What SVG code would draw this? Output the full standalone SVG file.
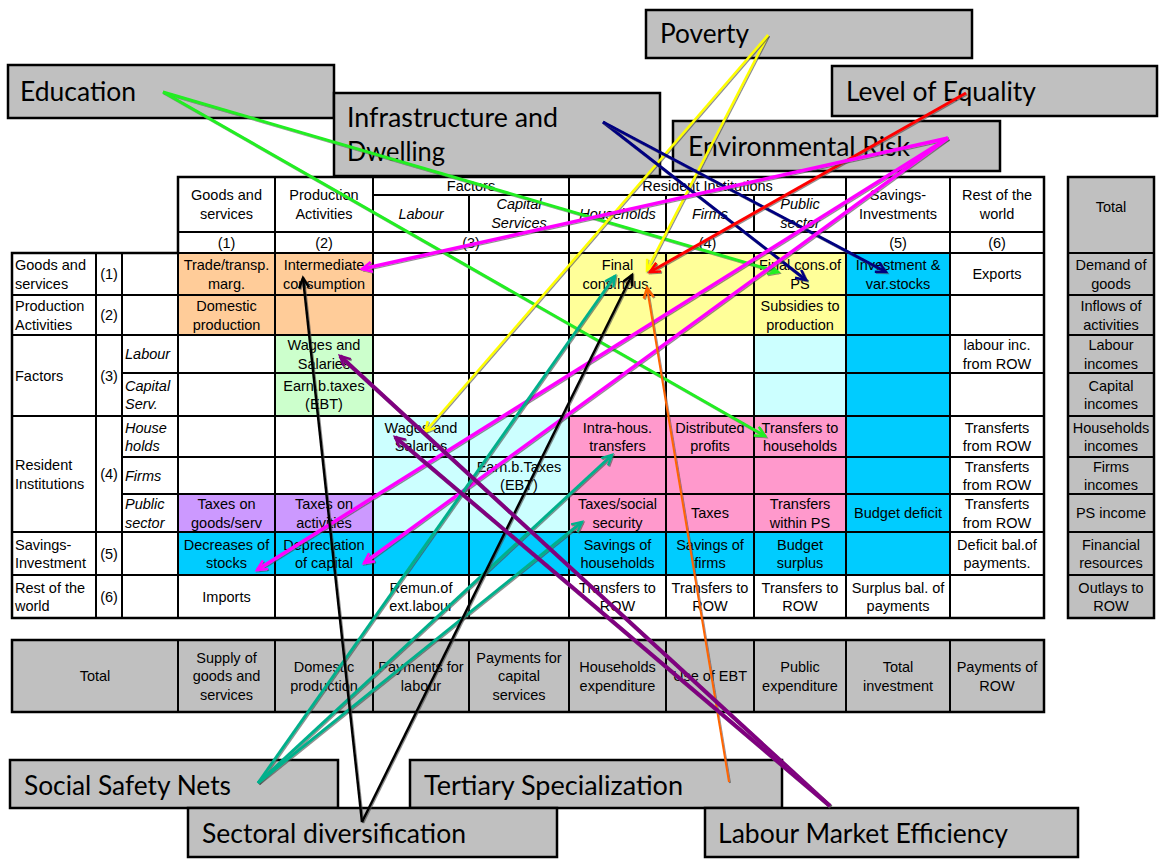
<svg xmlns="http://www.w3.org/2000/svg" width="1159" height="865" viewBox="0 0 1159 865">
<defs>
<style>
.c{font-family:"Liberation Sans",Arial,sans-serif;font-size:14.5px;text-anchor:middle;fill:#000}
.l{text-anchor:start}
.i{font-style:italic}
.box{fill:#C0C0C0;stroke:#000;stroke-width:2.5}
.lbl{font-family:Lato,"Open Sans",sans-serif;font-size:26px;fill:#000}
.grid{stroke:#000;stroke-width:2;fill:none}
.outer{stroke:#000;stroke-width:2.5;fill:none}
.cn{fill:none;filter:url(#sh)}
</style>
<filter id="sh" filterUnits="userSpaceOnUse" x="0" y="0" width="1159" height="865">
<feDropShadow dx="1" dy="1" stdDeviation="0.6" flood-color="#444" flood-opacity="0.6"/>
</filter>
<marker id="a-green" markerUnits="userSpaceOnUse" markerWidth="14" markerHeight="14" refX="11" refY="6" orient="auto"><path d="M1,1 L11,6 L1,11" fill="none" stroke="#22EE22" stroke-width="2.5"/></marker>
<marker id="a-yellow" markerUnits="userSpaceOnUse" markerWidth="14" markerHeight="14" refX="11" refY="6" orient="auto"><path d="M1,1 L11,6 L1,11" fill="none" stroke="#FFFF00" stroke-width="2.5"/></marker>
<marker id="a-navy" markerUnits="userSpaceOnUse" markerWidth="14" markerHeight="14" refX="11" refY="6" orient="auto"><path d="M1,1 L11,6 L1,11" fill="none" stroke="#000080" stroke-width="2.5"/></marker>
<marker id="a-red" markerUnits="userSpaceOnUse" markerWidth="14" markerHeight="14" refX="11" refY="6" orient="auto"><path d="M1,1 L11,6 L1,11" fill="none" stroke="#FF0000" stroke-width="2.5"/></marker>
<marker id="a-mag" markerUnits="userSpaceOnUse" markerWidth="14" markerHeight="14" refX="11" refY="6" orient="auto"><path d="M1,1 L11,6 L1,11" fill="none" stroke="#FF00FF" stroke-width="2.5"/></marker>
<marker id="a-teal" markerUnits="userSpaceOnUse" markerWidth="14" markerHeight="14" refX="11" refY="6" orient="auto"><path d="M1,1 L11,6 L1,11" fill="none" stroke="#00B08C" stroke-width="2.5"/></marker>
<marker id="a-black" markerUnits="userSpaceOnUse" markerWidth="14" markerHeight="14" refX="11" refY="6" orient="auto"><path d="M1,1 L11,6 L1,11" fill="none" stroke="#000000" stroke-width="2.5"/></marker>
<marker id="a-orange" markerUnits="userSpaceOnUse" markerWidth="14" markerHeight="14" refX="11" refY="6" orient="auto"><path d="M1,1 L11,6 L1,11" fill="none" stroke="#FF6600" stroke-width="2.5"/></marker>
<marker id="a-purple" markerUnits="userSpaceOnUse" markerWidth="14" markerHeight="14" refX="11" refY="6" orient="auto"><path d="M1,1 L11,6 L1,11" fill="none" stroke="#800080" stroke-width="2.5"/></marker>
</defs>
<rect width="1159" height="865" fill="#fff"/>

<!-- label boxes -->
<g id="education"><rect class="box" x="8" y="65" width="326" height="53"/><text class="lbl" x="20" y="101" textLength="116" lengthAdjust="spacingAndGlyphs">Education</text></g>
<g id="infrastructure"><rect class="box" x="334" y="93" width="326" height="83"/><text class="lbl" x="347" y="127" textLength="211" lengthAdjust="spacingAndGlyphs">Infrastructure and</text><text class="lbl" x="347" y="161" textLength="98" lengthAdjust="spacingAndGlyphs">Dwelling</text></g>
<g id="poverty"><rect class="box" x="646" y="10" width="326" height="48"/><text class="lbl" x="660" y="43" textLength="89" lengthAdjust="spacingAndGlyphs">Poverty</text></g>
<g id="equality"><rect class="box" x="832" y="66" width="325" height="50"/><text class="lbl" x="846" y="101" textLength="190" lengthAdjust="spacingAndGlyphs">Level of Equality</text></g>
<g id="envrisk"><rect class="box" x="673" y="121" width="327" height="50"/><text class="lbl" x="688" y="156" textLength="222" lengthAdjust="spacingAndGlyphs">Environmental Risk</text></g>
<g id="safetynets"><rect class="box" x="10" y="760" width="328" height="48"/><text class="lbl" x="24" y="795" textLength="207" lengthAdjust="spacingAndGlyphs">Social Safety Nets</text></g>
<g id="tertiary"><rect class="box" x="410" y="760" width="372" height="48"/><text class="lbl" x="424" y="795" textLength="259" lengthAdjust="spacingAndGlyphs">Tertiary Specialization</text></g>
<g id="sectoral"><rect class="box" x="188" y="808" width="369" height="49"/><text class="lbl" x="202" y="843" textLength="264" lengthAdjust="spacingAndGlyphs">Sectoral diversification</text></g>
<g id="labourmarket"><rect class="box" x="705" y="808" width="373" height="49"/><text class="lbl" x="718" y="843" textLength="290" lengthAdjust="spacingAndGlyphs">Labour Market Efficiency</text></g>

<!-- SAM table -->
<g id="sam-table">
<rect x="178" y="253" width="195" height="82" fill="#FFCC99"/>
<rect x="275" y="335" width="98" height="81" fill="#CCFFCC"/>
<rect x="569" y="253" width="277" height="82" fill="#FFFF99"/>
<rect x="846" y="253" width="104" height="322" fill="#00CCFF"/>
<rect x="178" y="532" width="668" height="43" fill="#00CCFF"/>
<rect x="373" y="416" width="196" height="116" fill="#CCFFFF"/>
<rect x="754" y="335" width="92" height="81" fill="#CCFFFF"/>
<rect x="569" y="416" width="277" height="116" fill="#FF99CC"/>
<rect x="178" y="494" width="195" height="38" fill="#CC99FF"/>
<path class="grid" d="M178,177H1044M178,232H1044M373,195H846M12,253H1044M12,295H1044M12,335H1044M122,373H1044M12,416H1044M122,457H1044M122,494H1044M12,532H1044M12,575H1044M12,618H1044
M96,253V618M122,253V618M178,177V618M275,177V618M373,177V618M469,195V232M469,253V618M569,177V618M666,195V232M666,253V618M754,195V232M754,253V618M846,177V618M950,177V618M1044,177V618M12,253V618"/>
<path class="outer" d="M178,177H1044V618H12V253H178Z"/>
<!-- header -->
<text class="c" x="226.5" y="200">Goods and</text><text class="c" x="226.5" y="218.5">services</text>
<text class="c" x="324" y="200">Production</text><text class="c" x="324" y="218.5">Activities</text>
<text class="c" x="471" y="191">Factors</text>
<text class="c" x="707.5" y="191">Resident Institutions</text>
<text class="c i" x="421" y="218.5">Labour</text>
<text class="c i" x="519" y="209">Capital</text><text class="c i" x="519" y="227.5">Services</text>
<text class="c i" x="617.5" y="218.5">Households</text>
<text class="c i" x="710" y="218.5">Firms</text>
<text class="c i" x="800" y="209">Public</text><text class="c i" x="800" y="227.5">sector</text>
<text class="c" x="898" y="200">Savings-</text><text class="c" x="898" y="218.5">Investments</text>
<text class="c" x="997" y="200">Rest of the</text><text class="c" x="997" y="218.5">world</text>
<text class="c" x="226.5" y="247.5">(1)</text><text class="c" x="324" y="247.5">(2)</text><text class="c" x="471" y="247.5">(3)</text><text class="c" x="707.5" y="247.5">(4)</text><text class="c" x="898" y="247.5">(5)</text><text class="c" x="997" y="247.5">(6)</text>
<!-- row labels -->
<text class="c l" x="15" y="270">Goods and</text><text class="c l" x="15" y="288.5">services</text><text class="c" x="109" y="279">(1)</text>
<text class="c l" x="15" y="311">Production</text><text class="c l" x="15" y="329.5">Activities</text><text class="c" x="109" y="320">(2)</text>
<text class="c l" x="15" y="380.5">Factors</text><text class="c" x="109" y="380.5">(3)</text>
<text class="c l i" x="125" y="359">Labour</text>
<text class="c l i" x="125" y="390.5">Capital</text><text class="c l i" x="125" y="409">Serv.</text>
<text class="c l" x="15" y="470">Resident</text><text class="c l" x="15" y="488.5">Institutions</text><text class="c" x="109" y="479">(4)</text>
<text class="c l i" x="125" y="432.5">House</text><text class="c l i" x="125" y="451">holds</text>
<text class="c l i" x="125" y="480.5">Firms</text>
<text class="c l i" x="125" y="509">Public</text><text class="c l i" x="125" y="527.5">sector</text>
<text class="c l" x="15" y="549.5">Savings-</text><text class="c l" x="15" y="568">Investment</text><text class="c" x="109" y="558.5">(5)</text>
<text class="c l" x="15" y="592.5">Rest of the</text><text class="c l" x="15" y="611">world</text><text class="c" x="109" y="601.5">(6)</text>
<!-- cells -->
<text class="c" x="226.5" y="270">Trade/transp.</text><text class="c" x="226.5" y="288.5">marg.</text>
<text class="c" x="324" y="270">Intermediate</text><text class="c" x="324" y="288.5">consumption</text>
<text class="c" x="617.5" y="270">Final</text><text class="c" x="617.5" y="288.5">cons.hous.</text>
<text class="c" x="800" y="270">Final cons.of</text><text class="c" x="800" y="288.5">PS</text>
<text class="c" x="898" y="270">Investment &amp;</text><text class="c" x="898" y="288.5">var.stocks</text>
<text class="c" x="997" y="279">Exports</text>
<text class="c" x="226.5" y="311">Domestic</text><text class="c" x="226.5" y="329.5">production</text>
<text class="c" x="800" y="311">Subsidies to</text><text class="c" x="800" y="329.5">production</text>
<text class="c" x="324" y="350">Wages and</text><text class="c" x="324" y="368.5">Salaries</text>
<text class="c" x="997" y="350">labour inc.</text><text class="c" x="997" y="368.5">from ROW</text>
<text class="c" x="324" y="390.5">Earn.b.taxes</text><text class="c" x="324" y="409">(EBT)</text>
<text class="c" x="421" y="432.5">Wages and</text><text class="c" x="421" y="451">Salaries</text>
<text class="c" x="617.5" y="432.5">Intra-hous.</text><text class="c" x="617.5" y="451">transfers</text>
<text class="c" x="710" y="432.5">Distributed</text><text class="c" x="710" y="451">profits</text>
<text class="c" x="800" y="432.5">Transfers to</text><text class="c" x="800" y="451">households</text>
<text class="c" x="997" y="432.5">Transferts</text><text class="c" x="997" y="451">from ROW</text>
<text class="c" x="519" y="471.5">Earn.b.Taxes</text><text class="c" x="519" y="490">(EBT)</text>
<text class="c" x="997" y="471.5">Transferts</text><text class="c" x="997" y="490">from ROW</text>
<text class="c" x="226.5" y="509">Taxes on</text><text class="c" x="226.5" y="527.5">goods/serv</text>
<text class="c" x="324" y="509">Taxes on</text><text class="c" x="324" y="527.5">activities</text>
<text class="c" x="617.5" y="509">Taxes/social</text><text class="c" x="617.5" y="527.5">security</text>
<text class="c" x="710" y="518">Taxes</text>
<text class="c" x="800" y="509">Transfers</text><text class="c" x="800" y="527.5">within PS</text>
<text class="c" x="898" y="518">Budget deficit</text>
<text class="c" x="997" y="509">Transferts</text><text class="c" x="997" y="527.5">from ROW</text>
<text class="c" x="226.5" y="549.5">Decreases of</text><text class="c" x="226.5" y="568">stocks</text>
<text class="c" x="324" y="549.5">Depreciation</text><text class="c" x="324" y="568">of capital</text>
<text class="c" x="617.5" y="549.5">Savings of</text><text class="c" x="617.5" y="568">households</text>
<text class="c" x="710" y="549.5">Savings of</text><text class="c" x="710" y="568">firms</text>
<text class="c" x="800" y="549.5">Budget</text><text class="c" x="800" y="568">surplus</text>
<text class="c" x="997" y="549.5">Deficit bal.of</text><text class="c" x="997" y="568">payments.</text>
<text class="c" x="226.5" y="601.5">Imports</text>
<text class="c" x="421" y="592.5">Remun.of</text><text class="c" x="421" y="611">ext.labour</text>
<text class="c" x="617.5" y="592.5">Transfers to</text><text class="c" x="617.5" y="611">ROW</text>
<text class="c" x="710" y="592.5">Transfers to</text><text class="c" x="710" y="611">ROW</text>
<text class="c" x="800" y="592.5">Transfers to</text><text class="c" x="800" y="611">ROW</text>
<text class="c" x="898" y="592.5">Surplus bal. of</text><text class="c" x="898" y="611">payments</text>
</g>

<!-- total column -->
<g id="total-column">
<rect x="1068" y="177" width="86" height="441" fill="#C0C0C0"/>
<path class="grid" d="M1068,253H1154M1068,295H1154M1068,335H1154M1068,373H1154M1068,416H1154M1068,457H1154M1068,494H1154M1068,532H1154M1068,575H1154"/>
<rect x="1068" y="177" width="86" height="441" class="outer"/>
<text class="c" x="1111" y="212">Total</text>
<text class="c" x="1111" y="270">Demand of</text><text class="c" x="1111" y="288.5">goods</text>
<text class="c" x="1111" y="311">Inflows of</text><text class="c" x="1111" y="329.5">activities</text>
<text class="c" x="1111" y="350">Labour</text><text class="c" x="1111" y="368.5">incomes</text>
<text class="c" x="1111" y="390.5">Capital</text><text class="c" x="1111" y="409">incomes</text>
<text class="c" x="1111" y="432.5">Households</text><text class="c" x="1111" y="451">incomes</text>
<text class="c" x="1111" y="471.5">Firms</text><text class="c" x="1111" y="490">incomes</text>
<text class="c" x="1111" y="518">PS income</text>
<text class="c" x="1111" y="549.5">Financial</text><text class="c" x="1111" y="568">resources</text>
<text class="c" x="1111" y="592.5">Outlays to</text><text class="c" x="1111" y="611">ROW</text>
</g>

<!-- total row -->
<g id="total-row">
<rect x="12" y="640" width="1032" height="72" fill="#C0C0C0"/>
<path class="grid" d="M178,640V712M275,640V712M373,640V712M469,640V712M569,640V712M666,640V712M754,640V712M846,640V712M950,640V712"/>
<rect x="12" y="640" width="1032" height="72" class="outer"/>
<text class="c" x="95" y="681">Total</text>
<text class="c" x="226.5" y="662.5">Supply of</text><text class="c" x="226.5" y="681">goods and</text><text class="c" x="226.5" y="699.5">services</text>
<text class="c" x="324" y="672">Domestic</text><text class="c" x="324" y="690.5">production</text>
<text class="c" x="421" y="672">Payments for</text><text class="c" x="421" y="690.5">labour</text>
<text class="c" x="519" y="662.5">Payments for</text><text class="c" x="519" y="681">capital</text><text class="c" x="519" y="699.5">services</text>
<text class="c" x="617.5" y="672">Households</text><text class="c" x="617.5" y="690.5">expenditure</text>
<text class="c" x="710" y="681">Use of EBT</text>
<text class="c" x="800" y="672">Public</text><text class="c" x="800" y="690.5">expenditure</text>
<text class="c" x="898" y="672">Total</text><text class="c" x="898" y="690.5">investment</text>
<text class="c" x="997" y="672">Payments of</text><text class="c" x="997" y="690.5">ROW</text>
</g>

<!-- connectors -->
<g id="connectors">
<line class="cn" x1="163" y1="92" x2="778" y2="272" stroke="#22EE22" stroke-width="3" marker-end="url(#a-green)"/>
<line class="cn" x1="163" y1="92" x2="765" y2="436" stroke="#22EE22" stroke-width="3" marker-end="url(#a-green)"/>
<line class="cn" x1="768" y1="35" x2="647" y2="270" stroke="#FFFF00" stroke-width="2.5" marker-end="url(#a-yellow)"/>
<line class="cn" x1="768" y1="35" x2="425" y2="432" stroke="#FFFF00" stroke-width="2.5" marker-end="url(#a-yellow)"/>
<line class="cn" x1="603" y1="122" x2="806" y2="280" stroke="#000080" stroke-width="3" marker-end="url(#a-navy)"/>
<line class="cn" x1="603" y1="122" x2="886" y2="272" stroke="#000080" stroke-width="3" marker-end="url(#a-navy)"/>
<line class="cn" x1="966" y1="93" x2="650" y2="272" stroke="#FF0000" stroke-width="3" marker-end="url(#a-red)"/>
<line class="cn" x1="948" y1="138" x2="362" y2="269" stroke="#FF00FF" stroke-width="3.5" marker-end="url(#a-mag)"/>
<line class="cn" x1="948" y1="138" x2="257" y2="570" stroke="#FF00FF" stroke-width="3.5" marker-end="url(#a-mag)"/>
<line class="cn" x1="948" y1="138" x2="364" y2="563" stroke="#FF00FF" stroke-width="3.5" marker-end="url(#a-mag)"/>
<line class="cn" x1="258" y1="783" x2="615" y2="276" stroke="#00B08C" stroke-width="3" marker-end="url(#a-teal)"/>
<line class="cn" x1="258" y1="783" x2="612" y2="455" stroke="#00B08C" stroke-width="3" marker-end="url(#a-teal)"/>
<line class="cn" x1="258" y1="783" x2="582" y2="522" stroke="#00B08C" stroke-width="3" marker-end="url(#a-teal)"/>
<line class="cn" x1="362" y1="822" x2="303" y2="278" stroke="#000000" stroke-width="2.5" marker-end="url(#a-black)"/>
<line class="cn" x1="362" y1="822" x2="632" y2="275" stroke="#000000" stroke-width="2.5" marker-end="url(#a-black)"/>
<line class="cn" x1="729" y1="782" x2="647" y2="288" stroke="#FF6600" stroke-width="2" marker-end="url(#a-orange)"/>
<line class="cn" x1="830" y1="806" x2="340" y2="356" stroke="#800080" stroke-width="4" marker-end="url(#a-purple)"/>
<line class="cn" x1="830" y1="806" x2="395" y2="437" stroke="#800080" stroke-width="4" marker-end="url(#a-purple)"/>
</g>
</svg>
